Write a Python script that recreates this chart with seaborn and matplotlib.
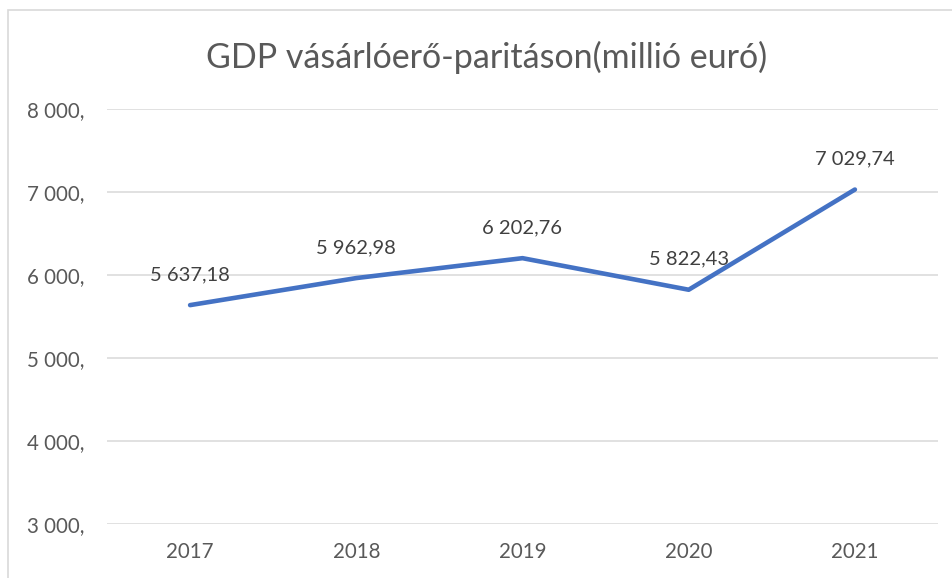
import matplotlib
matplotlib.use("Agg")
import matplotlib.pyplot as plt
import seaborn as sns
import pandas as pd
from matplotlib.patches import Rectangle

years = [2017, 2018, 2019, 2020, 2021]
gdp_ppp = [5637.18, 5962.98, 6202.76, 5822.43, 7029.74]
y_ticks = [3000, 4000, 5000, 6000, 7000, 8000]

df = pd.DataFrame({"year": years, "gdp": gdp_ppp})

def hu_num(v, dec=2):
    s = f"{v:,.{dec}f}"
    return s.replace(",", " ").replace(".", ",")

sns.set_style("white")
plt.rcParams["font.family"] = ["Lato", "DejaVu Sans"]

W, H = 953, 578
fig = plt.figure(figsize=(W / 100, H / 100), dpi=100)
ax = fig.add_axes([107 / W, 1 - 524 / H, (938 - 107) / W, (524 - 109) / H])

# chart border like excel
fig.patches.append(Rectangle((8 / W, -0.1), 1.2, 1 - 10 / H + 0.1,
                             transform=fig.transFigure, fill=False,
                             edgecolor="#D9D9D9", linewidth=1.2))

sns.lineplot(data=df, x="year", y="gdp", ax=ax, color="#4472C4",
             linewidth=3.3, solid_capstyle="round")

ax.set_xlim(2016.5, 2021.5)
ax.set_ylim(3000, 8000)
ax.set_yticks(y_ticks)
ax.set_yticklabels([hu_num(t, 0) + "," for t in y_ticks])
ax.set_xticks(years)
ax.set_xticklabels([str(y) for y in years])
ax.grid(axis="y", color="#D9D9D9", linewidth=1.1)
ax.set_axisbelow(True)
for s in ax.spines.values():
    s.set_visible(False)
ax.tick_params(axis="y", length=0, pad=16, labelsize=14.8, labelcolor="#595959")
ax.tick_params(axis="x", length=0, pad=13, labelsize=14.8, labelcolor="#595959")
ax.set_xlabel("")
ax.set_ylabel("")

# data labels
for x, v in zip(years, gdp_ppp):
    ax.annotate(hu_num(v), (x, v), xytext=(0, 22), textcoords="offset points",
                ha="center", va="center", fontsize=14.5, color="#404040")

fig.text(487 / W, 1 - 57 / H, "GDP vásárlóerő-paritáson(millió euró)",
         ha="center", va="center", fontsize=24.5, color="#595959")

fig.savefig("out.png", dpi=100)
